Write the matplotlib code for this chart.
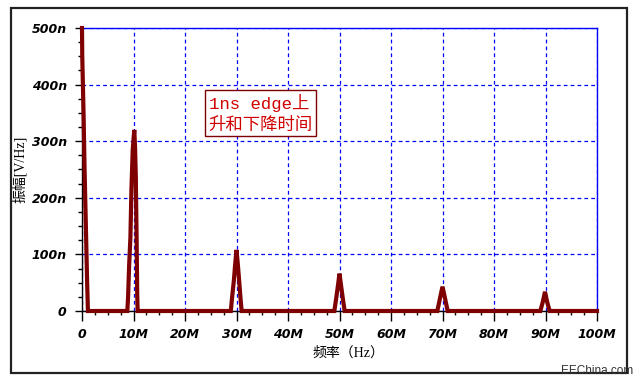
import matplotlib
matplotlib.use('Agg')
import matplotlib.pyplot as plt
from matplotlib.patches import Rectangle
from matplotlib.ticker import MultipleLocator, FixedFormatter, FixedLocator

plt.rcParams['font.family'] = ['DejaVu Sans', 'Noto Sans CJK SC']

# spectrum points: frequency in MHz, amplitude in nV/Hz
freq_mhz = [0, 0.05, 0.3, 0.5, 0.75, 1.0, 1.15,
            8.8, 8.95, 9.15, 9.4, 9.6, 9.85, 10.15, 10.3, 10.45, 10.6, 10.72, 10.8,
            28.9, 29.1, 29.5, 29.7, 30.0, 30.3, 30.5, 30.8, 31.0,
            49.0, 49.4, 49.7, 50.0, 50.3, 50.6, 51.0,
            69.0, 69.5, 70.0, 70.5, 71.0,
            89.0, 89.5, 89.9, 90.3, 90.8,
            100]
amp_n = [500, 450, 350, 250, 150, 50, 0,
         0, 25, 80, 130, 215, 285, 320, 290, 235, 130, 30, 0,
         0, 20, 55, 78, 108, 78, 55, 20, 0,
         0, 25, 45, 66, 45, 25, 0,
         0, 22, 43, 22, 0,
         0, 17, 34, 17, 0,
         0]

x_ticks = [0, 10, 20, 30, 40, 50, 60, 70, 80, 90, 100]
x_labels = ['0', '10M', '20M', '30M', '40M', '50M', '60M', '70M', '80M', '90M', '100M']
y_ticks = [0, 100, 200, 300, 400, 500]
y_labels = ['0', '100n', '200n', '300n', '400n', '500n']

fig = plt.figure(figsize=(6.39, 3.84), dpi=100)
ax = fig.add_axes([82/639, 1-311/384, 515/639, 283/384])

ax.plot(freq_mhz, amp_n, color='#7f0000', lw=3.0, solid_joinstyle='miter',
        clip_on=False, zorder=3)

ax.set_xlim(0, 100)
ax.set_ylim(0, 500)
ax.xaxis.set_major_locator(FixedLocator(x_ticks))
ax.xaxis.set_major_formatter(FixedFormatter(x_labels))
ax.yaxis.set_major_locator(FixedLocator(y_ticks))
ax.yaxis.set_major_formatter(FixedFormatter(y_labels))
ax.xaxis.set_minor_locator(MultipleLocator(2.5))
ax.yaxis.set_minor_locator(MultipleLocator(25))

ax.grid(True, which='major', color='#0000ff', ls=(0, (3, 2.5)), lw=0.9)
ax.tick_params(which='major', direction='out', length=5, width=1, color='black', pad=6)
ax.tick_params(which='minor', direction='out', length=3, width=1, color='black')
ax.tick_params(axis='x', which='major', length=7, pad=5)
for lab in ax.get_xticklabels() + ax.get_yticklabels():
    lab.set_fontweight('bold')
    lab.set_fontstyle('oblique')
    lab.set_fontsize(9)

ax.spines['top'].set_color('#0000ff')
ax.spines['right'].set_color('#0000ff')
ax.spines['left'].set_color('black')
ax.spines['bottom'].set_color('black')
for s in ax.spines.values():
    s.set_linewidth(1)

ax.set_ylabel('振幅[V/Hz]', fontsize=10, labelpad=3,
              family=['Liberation Serif', 'Noto Sans CJK SC'])
ax.set_xlabel('频率（Hz）', fontsize=10, labelpad=4,
              family=['Liberation Serif', 'Noto Sans CJK SC'])
ax.xaxis.set_label_coords((348 - 82) / 515, -0.125)

ax.text(0.246, 0.768, '1ns edge上\n升和下降时间', transform=ax.transAxes,
        ha='left', va='top', color='#d00000', fontsize=12.5, linespacing=1.4,
        family=['Liberation Mono', 'Noto Sans CJK SC'],
        bbox=dict(boxstyle='square,pad=0.2', fc='white', ec='#800000', lw=1))

# outer frame
fig.patches.append(Rectangle((11/639, 1-373/384), 616/639, 365/384,
                             transform=fig.transFigure, fill=False,
                             ec='#222222', lw=1.6))
fig.text(597/639, 1-371/384, 'EEChina.com', ha='center', va='center',
         fontsize=8.5, color='#333333', family='Liberation Sans')

fig.savefig('out.png', dpi=100)
